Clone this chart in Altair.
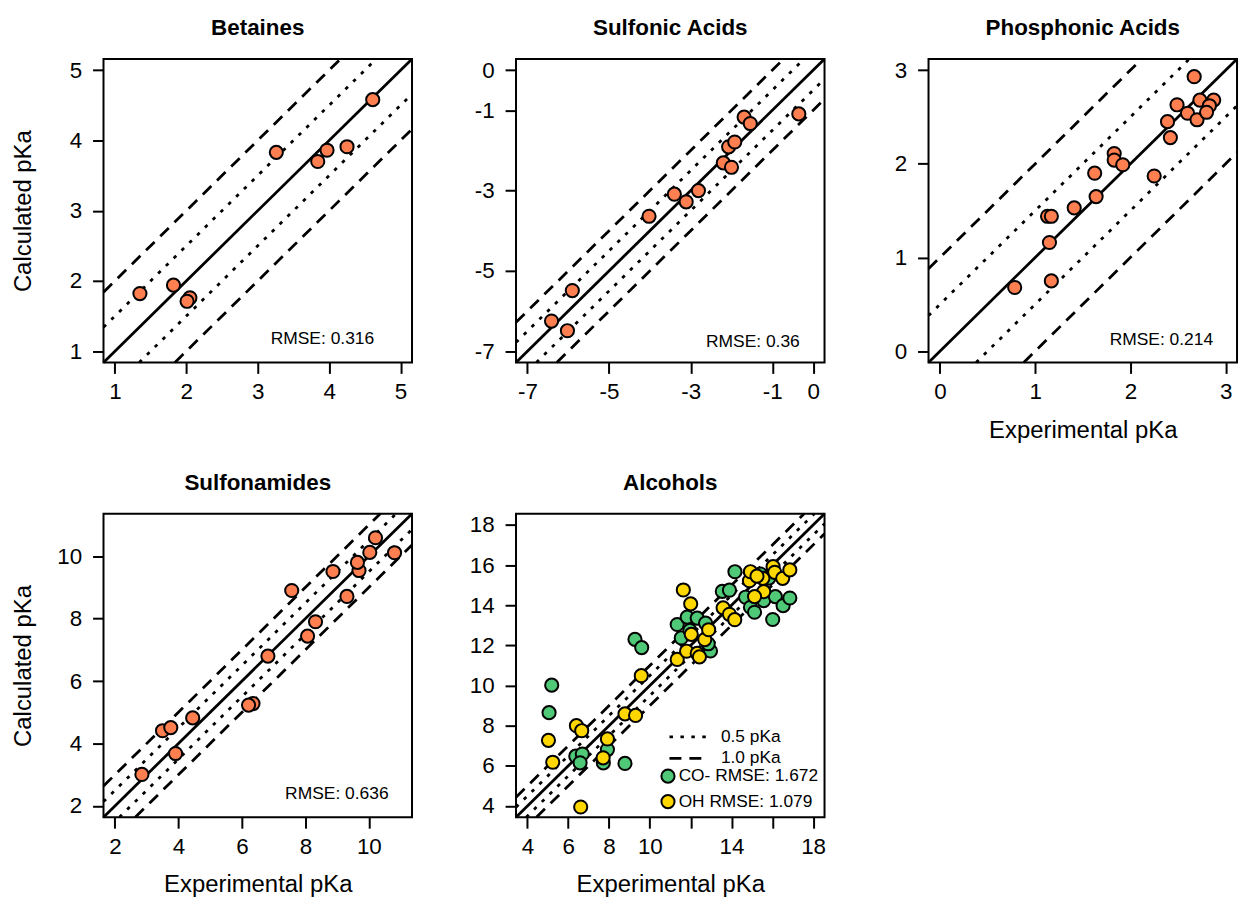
import altair as alt
import pandas as pd

W, H = 310, 305
ORANGE = "#FF7F50"
GREEN = "#4FC877"
YELLOW = "#FFD700"
FONT = "Liberation Sans"
TICK_FS = 22.5
TITLE_FS = 24
PT_SIZE = 175
PT_STROKE = 2

# ---------------- data ----------------
bet_x = [1.35, 1.82, 2.05, 2.01, 3.26, 3.84, 3.97, 4.25, 4.61]
bet_y = [1.82, 1.94, 1.76, 1.71, 3.83, 3.70, 3.86, 3.91, 4.58]

sul_x = [-6.41, -5.90, -6.02, -4.02, -3.40, -3.11, -2.81, -2.20, -2.00, -2.07, -1.92, -1.69, -1.54, -0.35]
sul_y = [-6.25, -5.49, -6.49, -3.64, -3.09, -3.28, -3.00, -2.31, -2.42, -1.91, -1.79, -1.17, -1.33, -1.09]

pho_x = [2.67, 2.49, 2.73, 2.875, 2.83, 2.60, 2.70, 2.80, 2.39, 2.42, 1.83, 1.83, 1.92, 1.625,
         2.25, 1.64, 1.41, 1.13, 1.17, 1.15, 1.17, 0.785]
pho_y = [2.93, 2.63, 2.68, 2.68, 2.62, 2.54, 2.47, 2.55, 2.45, 2.28, 2.11, 2.04, 1.99, 1.90,
         1.87, 1.65, 1.53, 1.44, 1.44, 1.16, 0.75, 0.68]

sam_x = [2.85, 3.50, 3.76, 4.45, 3.91, 6.35, 6.21, 6.82, 8.07, 8.32, 7.57, 9.31, 8.87, 9.69,
         9.64, 10.03, 10.21, 10.81]
sam_y = [3.01, 4.41, 4.51, 4.82, 3.68, 5.28, 5.23, 6.80, 7.44, 7.90, 8.90, 8.71, 9.51, 9.54,
         9.80, 10.12, 10.59, 10.11]

co_x = [5.19, 5.06, 6.37, 6.69, 6.58, 7.92, 7.72, 8.78, 9.27, 9.60, 11.34, 11.83, 12.32, 11.54,
        11.96, 12.73, 12.97, 12.86, 13.55, 13.90, 14.17, 14.69, 14.93, 15.13, 15.58, 16.15,
        16.53, 16.86, 16.02, 15.42, 15.83]
co_y = [10.02, 8.65, 6.48, 6.59, 6.15, 6.81, 6.15, 6.12, 12.30, 11.89, 13.04, 13.41, 13.36, 12.37,
        12.75, 13.11, 11.72, 12.08, 14.69, 14.75, 15.67, 14.40, 13.90, 13.65, 14.23, 14.43,
        13.98, 14.36, 13.29, 15.55, 15.35]

oh_x = [5.03, 5.24, 6.40, 6.66, 6.61, 7.92, 7.71, 8.78, 9.30, 9.58, 11.34, 11.64, 12.00, 11.80,
        12.32, 12.43, 12.03, 12.69, 12.88, 13.59, 13.90, 14.16, 14.88, 14.93, 15.54, 15.58,
        15.13, 16.04, 16.12, 16.51, 16.86, 15.25]
oh_y = [7.27, 6.18, 8.00, 7.75, 3.95, 7.34, 6.40, 8.59, 8.51, 10.49, 11.30, 14.76, 14.07, 11.71,
        11.60, 11.43, 12.55, 12.29, 12.78, 13.87, 13.55, 13.28, 15.22, 15.67, 15.34, 14.68,
        14.43, 15.92, 15.64, 15.34, 15.76, 15.45]

titles = ["Betaines", "Sulfonic Acids", "Phosphonic Acids", "Sulfonamides", "Alcohols"]
limits = [(1, 5), (-7, 0), (0, 3), (2, 11), (4, 18)]
ticks = [[1, 2, 3, 4, 5], [-7, -5, -3, -1, 0], [0, 1, 2, 3], [2, 4, 6, 8, 10],
         [4, 6, 8, 10, 12, 14, 16, 18]]
rmse_labels = ["RMSE: 0.316", "RMSE: 0.36", "RMSE: 0.214", "RMSE: 0.636"]
series_labels = ["CO- RMSE: 1.672", "OH RMSE: 1.079"]
band_labels = ["0.5 pKa", "1.0 pKa"]
offsets = [0, 0.5, -0.5, 1.0, -1.0]


def line_frame(lo, hi):
    pad = 0.04 * (hi - lo)
    a, b = lo - pad, hi + pad
    rows = []
    for k, off in enumerate(offsets):
        band = "solid" if off == 0 else (band_labels[0] if abs(off) == 0.5 else band_labels[1])
        x0, x1 = max(a, a - off), min(b, b - off)
        rows.append({"x": x0, "y": x0 + off, "line": k, "band": band})
        rows.append({"x": x1, "y": x1 + off, "line": k, "band": band})
    return pd.DataFrame(rows), [a, b]


def panel(i, xs, ys, rmse=None, rmse_pos=None, xtitle=None, ytitle=None, alcohols=False):
    lines, dom = line_frame(*limits[i])
    xlabel = "''+datum.value"
    if alcohols:
        xlabel = "datum.value == 12 || datum.value == 16 ? '' : ''+datum.value"
    common = dict(labelFontSize=TICK_FS, labelFont=FONT, labelColor="black",
                  titleFontSize=TITLE_FS, titleFont=FONT, titleFontWeight="normal",
                  titleColor="black", tickSize=11, tickWidth=2, tickColor="black",
                  domain=False, grid=False, labelFlush=False, labelOverlap=False)
    xaxis_kw = dict(values=ticks[i], labelExpr=xlabel, title=xtitle, labelPadding=7, **common)
    yaxis_kw = dict(values=ticks[i], labelExpr="''+datum.value", title=ytitle, labelPadding=11,
                    **common)
    if xtitle:
        xaxis_kw.update(titleY=75, titleBaseline="alphabetic", titleAlign="center", titleX=W / 2)
    if ytitle:
        yaxis_kw.update(titleX=-73, titleY=H / 2, titleAngle=270, titleBaseline="alphabetic",
                        titleAlign="center")
    X = alt.X("x:Q", scale=alt.Scale(domain=dom, nice=False, zero=False), axis=alt.Axis(**xaxis_kw))
    Y = alt.Y("y:Q", scale=alt.Scale(domain=dom, nice=False, zero=False), axis=alt.Axis(**yaxis_kw))

    LW = 2.8
    solid = alt.Chart(lines[lines.band == "solid"]).mark_line(
        color="black", strokeWidth=LW).encode(x=X, y=Y)
    layers = [solid]
    if alcohols:
        off = alt.Chart(lines[lines.band != "solid"]).mark_line(
            color="black", strokeWidth=LW).encode(
            x=X, y=Y, detail="line:N",
            strokeDash=alt.StrokeDash(
                "band:N",
                scale=alt.Scale(domain=band_labels, range=[[3.5, 7.5], [12, 8]]),
                legend=alt.Legend(title=None, orient="none", legendX=165.5, legendY=215.5,
                                  symbolType="M-4,0H4", symbolSize=100,
                                  symbolStrokeColor="black", symbolStrokeWidth=LW,
                                  labelFontSize=17.4, labelColor="black", labelFont=FONT,
                                  labelOffset=23, rowPadding=2.6, padding=0)))
        layers.append(off)
        pts = pd.DataFrame({"x": co_x + oh_x, "y": co_y + oh_y,
                            "series": [series_labels[0]] * len(co_x) + [series_labels[1]] * len(oh_x)})
        layers.append(alt.Chart(pts).mark_circle(
            size=PT_SIZE, stroke="black", strokeWidth=PT_STROKE, opacity=1).encode(
            x=X, y=Y,
            fill=alt.Fill("series:N",
                          scale=alt.Scale(domain=series_labels, range=[GREEN, YELLOW]),
                          legend=alt.Legend(title=None, orient="none", legendX=144, legendY=255,
                                            symbolType="circle", symbolSize=PT_SIZE,
                                            symbolStrokeColor="black",
                                            symbolStrokeWidth=PT_STROKE, symbolOpacity=1,
                                            labelFontSize=17.4, labelColor="black",
                                            labelFont=FONT, labelOffset=2, rowPadding=3.6,
                                            padding=0))))
    else:
        dot = alt.Chart(lines[lines.band == band_labels[0]]).mark_line(
            color="black", strokeWidth=LW, strokeDash=[3.5, 7.5]).encode(
            x=X, y=Y, detail="line:N")
        dash = alt.Chart(lines[lines.band == band_labels[1]]).mark_line(
            color="black", strokeWidth=LW, strokeDash=[12, 8]).encode(
            x=X, y=Y, detail="line:N")
        layers += [dot, dash]
        pts = pd.DataFrame({"x": xs, "y": ys})
        layers.append(alt.Chart(pts).mark_circle(
            size=PT_SIZE, fill=ORANGE, stroke="black", strokeWidth=PT_STROKE, opacity=1).encode(
            x=X, y=Y))
        txt = alt.Chart(pd.DataFrame({"t": [rmse]})).mark_text(
            align="center", baseline="alphabetic", fontSize=17.5, color="black", font=FONT).encode(
            x=alt.value(rmse_pos[0]), y=alt.value(rmse_pos[1]), text="t:N")
        layers.append(txt)
    # panel title as a text mark placed above the frame
    ttl = alt.Chart(pd.DataFrame({"t": [titles[i]]})).mark_text(
        align="center", baseline="alphabetic", fontSize=22.5, fontWeight="bold", color="black",
        font=FONT).encode(x=alt.value(W / 2), y=alt.value(-24), text="t:N")
    layers.append(ttl)
    return alt.layer(*layers).properties(width=W, height=H)


p1 = panel(0, bet_x, bet_y, rmse_labels[0], (220, 286), ytitle="Calculated pKa")
p2 = panel(1, sul_x, sul_y, rmse_labels[1], (238, 290))
p3 = panel(2, pho_x, pho_y, rmse_labels[2], (234, 287), xtitle="Experimental pKa")
p4 = panel(3, sam_x, sam_y, rmse_labels[3], (234.5, 287), xtitle="Experimental pKa",
           ytitle="Calculated pKa")
p5 = panel(4, None, None, xtitle="Experimental pKa", alcohols=True)

chart = alt.concat(p1, p2, p3, p4, p5, columns=3, spacing={"row": 152, "column": 104.5},
                   bounds="flush").resolve_scale(
    x="independent", y="independent", fill="independent", strokeDash="independent"
).properties(
    padding={"left": 11, "top": 14, "right": 0, "bottom": 0},
    background="white",
).configure(font=FONT).configure_view(
    stroke="black", strokeWidth=2
).configure_axis(labelFontSize=TICK_FS, titleFontSize=TITLE_FS)

chart.save("out.html", embed_options={"renderer": "svg", "actions": False})
